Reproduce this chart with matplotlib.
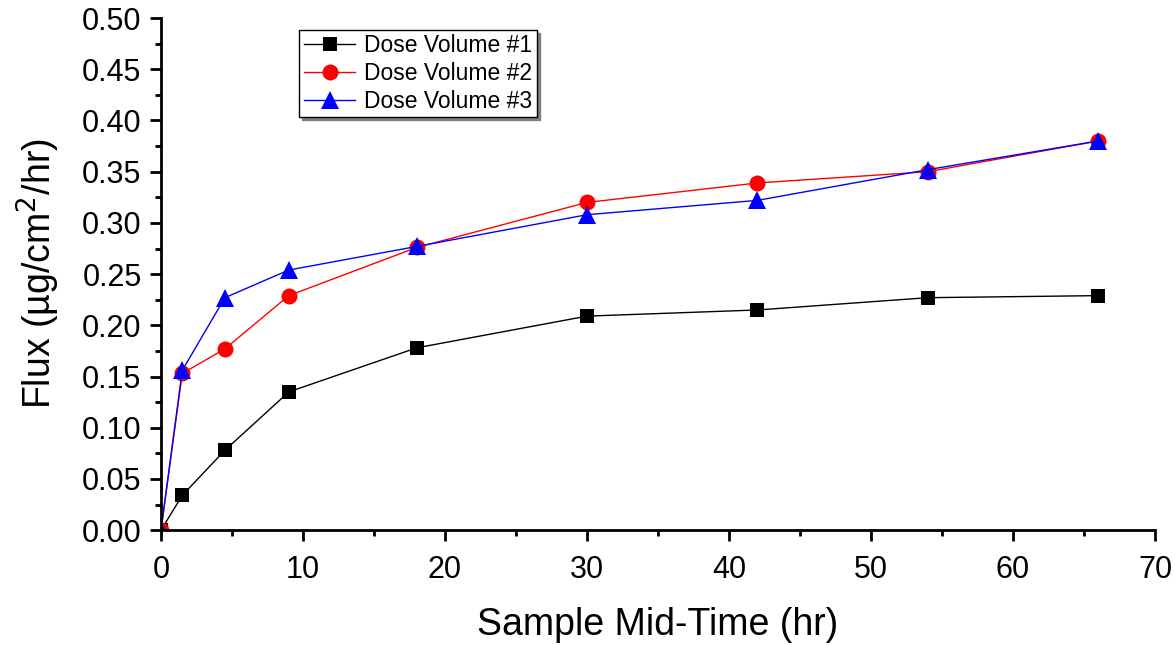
import matplotlib.pyplot as plt
from matplotlib.ticker import MultipleLocator

# data
mid_time = [0, 1.5, 4.5, 9, 18, 30, 42, 54, 66]
flux_dose1 = [0.0, 0.034, 0.078, 0.135, 0.178, 0.209, 0.215, 0.227, 0.229]
flux_dose2 = [0.0, 0.153, 0.177, 0.229, 0.276, 0.320, 0.339, 0.350, 0.380]
flux_dose3 = [0.0, 0.156, 0.227, 0.254, 0.277, 0.308, 0.322, 0.352, 0.380]

SERIES = [
    ("Dose Volume #1", flux_dose1, "black", "s", 10.5),
    ("Dose Volume #2", flux_dose2, "red", "o", 11.5),
    ("Dose Volume #3", flux_dose3, "blue", "^", 12.5),
]

plt.rcParams.update({
    "font.family": ["Liberation Sans", "DejaVu Sans"],
    "axes.linewidth": 2.0,
    "xtick.major.width": 2.0,
    "ytick.major.width": 2.0,
    "xtick.minor.width": 2.0,
    "ytick.minor.width": 2.0,
    "xtick.major.size": 8,
    "ytick.major.size": 8,
    "xtick.minor.size": 4,
    "ytick.minor.size": 4,
})

fig = plt.figure(figsize=(11.75, 6.45), dpi=100)
ax = fig.add_axes([0.137, 0.178, 0.846, 0.794])

for label, values, color, marker, size in SERIES:
    ax.plot(mid_time, values, color=color, linewidth=1.0, marker=marker,
            markersize=size, markeredgewidth=0, label=label)

ax.set_xlim(0, 70)
ax.set_ylim(0, 0.5)
ax.xaxis.set_major_locator(MultipleLocator(10))
ax.xaxis.set_minor_locator(MultipleLocator(5))
ax.yaxis.set_major_locator(MultipleLocator(0.05))
ax.yaxis.set_minor_locator(MultipleLocator(0.025))
ax.yaxis.set_major_formatter(plt.FormatStrFormatter("%.2f"))
ax.tick_params(axis="both", which="both", direction="out", labelsize=22)
ax.tick_params(axis="x", which="major", pad=10)
ax.tick_params(axis="y", which="major", pad=6)

for side in ("top", "right"):
    ax.spines[side].set_visible(False)

ax.set_xlabel("Sample Mid-Time (hr)", fontsize=27, labelpad=16)
ax.set_ylabel("Flux (\u00b5g/cm$^2$/hr)", fontsize=27, labelpad=14)

leg = ax.legend(loc="upper left", bbox_to_anchor=(0.139, 0.977), fontsize=16.5,
                frameon=True, fancybox=False, edgecolor="black",
                shadow={"ox": 2, "oy": -2, "color": "0.5", "alpha": 1.0},
                borderpad=0.2, labelspacing=0.2, handlelength=2.25,
                handletextpad=0.4, borderaxespad=0)
leg.get_frame().set_linewidth(1.0)

fig.savefig("out.png", dpi=100)
